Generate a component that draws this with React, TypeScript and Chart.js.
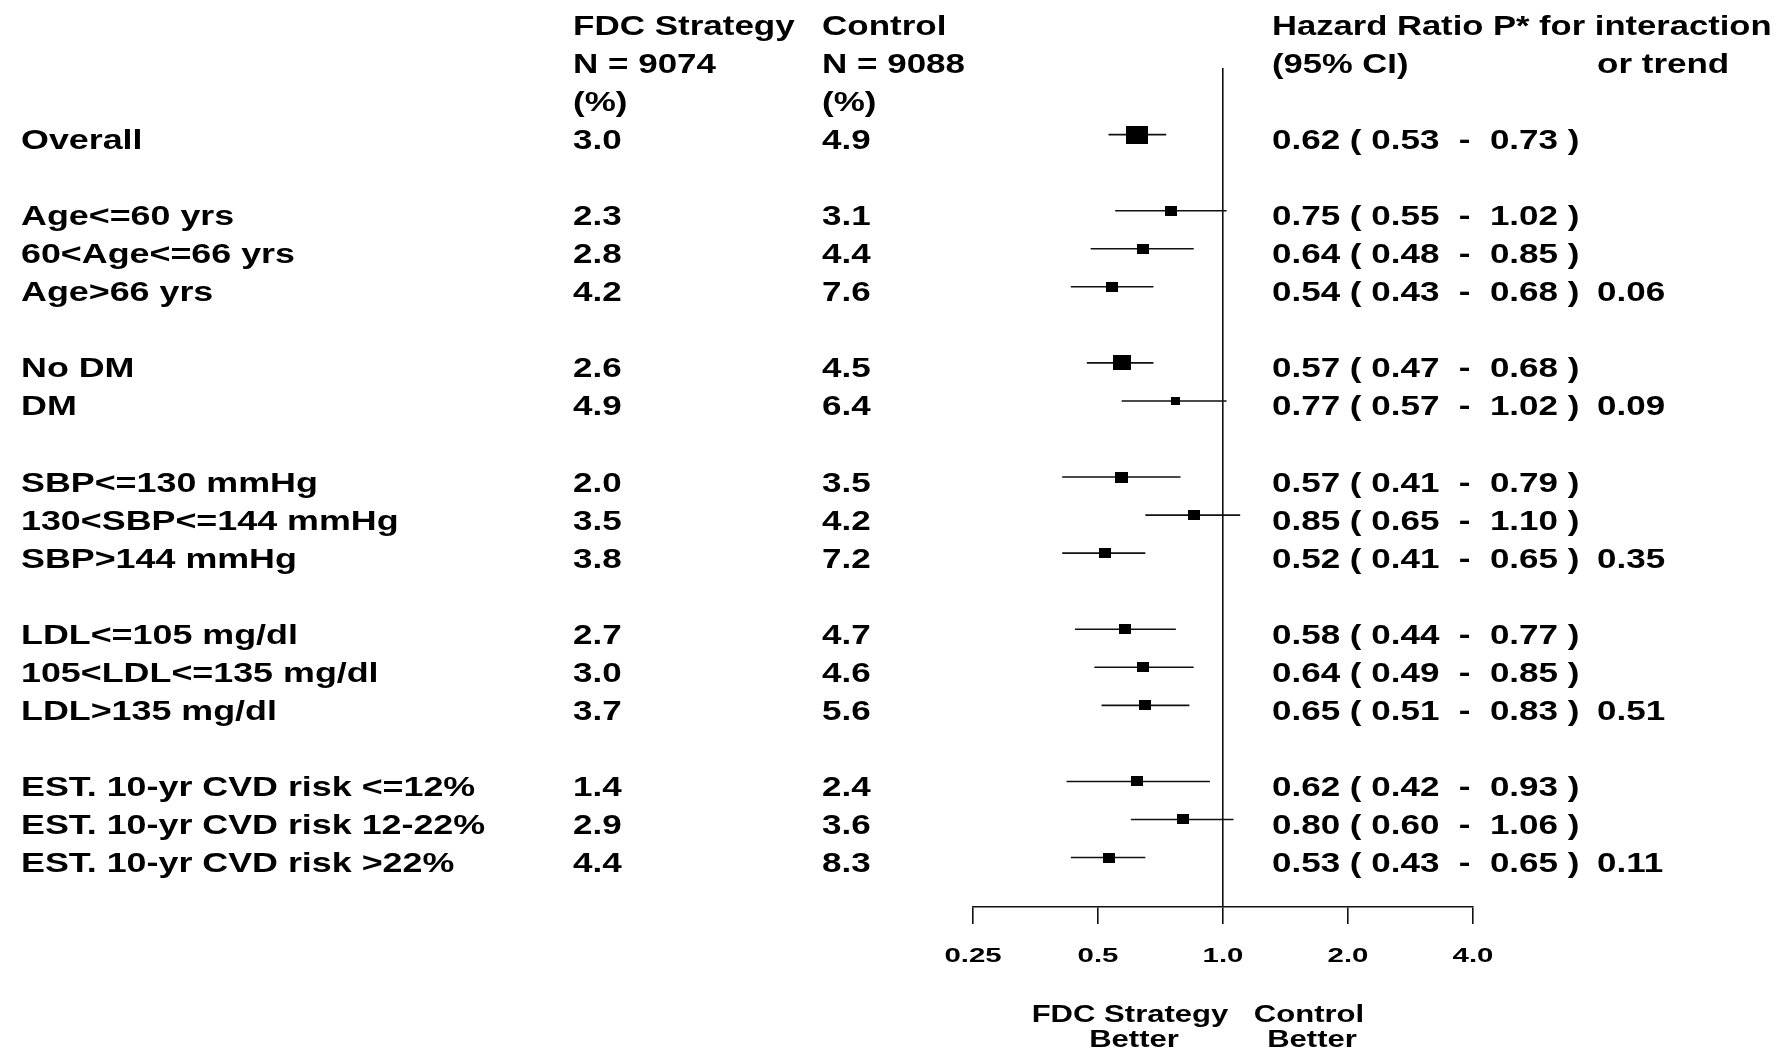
import React, { useEffect, useRef } from 'react';
import { Chart, registerables } from 'chart.js';

Chart.register(...registerables);

// ---- data (null = spacer row) ----
const subgroups: (string | null)[] = [
  'Overall', null,
  'Age<=60 yrs', '60<Age<=66 yrs', 'Age>66 yrs', null,
  'No DM', 'DM', null,
  'SBP<=130 mmHg', '130<SBP<=144 mmHg', 'SBP>144 mmHg', null,
  'LDL<=105 mg/dl', '105<LDL<=135 mg/dl', 'LDL>135 mg/dl', null,
  'EST. 10-yr CVD risk <=12%', 'EST. 10-yr CVD risk 12-22%', 'EST. 10-yr CVD risk >22%',
];
const fdcRate: (number | null)[] = [3.0, null, 2.3, 2.8, 4.2, null, 2.6, 4.9, null, 2.0, 3.5, 3.8, null, 2.7, 3.0, 3.7, null, 1.4, 2.9, 4.4];
const controlRate: (number | null)[] = [4.9, null, 3.1, 4.4, 7.6, null, 4.5, 6.4, null, 3.5, 4.2, 7.2, null, 4.7, 4.6, 5.6, null, 2.4, 3.6, 8.3];
const hazardRatio: (number | null)[] = [0.62, null, 0.75, 0.64, 0.54, null, 0.57, 0.77, null, 0.57, 0.85, 0.52, null, 0.58, 0.64, 0.65, null, 0.62, 0.80, 0.53];
const ciLower: (number | null)[] = [0.53, null, 0.55, 0.48, 0.43, null, 0.47, 0.57, null, 0.41, 0.65, 0.41, null, 0.44, 0.49, 0.51, null, 0.42, 0.60, 0.43];
const ciUpper: (number | null)[] = [0.73, null, 1.02, 0.85, 0.68, null, 0.68, 1.02, null, 0.79, 1.10, 0.65, null, 0.77, 0.85, 0.83, null, 0.93, 1.06, 0.65];
const pInteraction: (string | null)[] = [null, null, null, null, '0.06', null, null, '0.09', null, null, null, '0.35', null, null, null, '0.51', null, null, null, '0.11'];
// relative weight (share of participants) -> box size
const boxWeight: (number | null)[] = [1, null, 0.3, 0.3, 0.3, null, 0.71, 0.18, null, 0.34, 0.3, 0.3, null, 0.3, 0.3, 0.3, null, 0.3, 0.3, 0.3];

const tickValues = [0.25, 0.5, 1, 2, 4];
const tickLabels = ['0.25', '0.5', '1.0', '2.0', '4.0'];

const headerFdc = ['FDC Strategy', 'N = 9074', '(%)'];
const headerControl = ['Control', 'N = 9088', '(%)'];
const headerHR = ['Hazard Ratio P* for interaction', '(95% CI)'];
const headerP = 'or trend';
const favourLeft = ['FDC Strategy', 'Better'];
const favourRight = ['Control', 'Better'];

// ---- layout ----
const W = 1778;
const H = 1051;
const AXIS_Y = 907;
const PLOT_LEFT = 973;
const PLOT_RIGHT = 1473;
const PLOT_TOP = 68;
const LABEL_X = 21;
const COL1_X = 573;
const COL2_X = 822;
const HR_X = 1272;
const P_X = 1597;
const TEXT_SIZE = 28;
const TEXT_SX = 1.25;
const HEADER_HR_SX = 1.235;
const LABEL_SX = 1.28;
const BASE_OFF = 14.5;
const FONT = '"Liberation Sans", Arial, Helvetica, sans-serif';

function put(ctx: CanvasRenderingContext2D, text: string, x: number, y: number, size: number, sx: number, align: CanvasTextAlign = 'left') {
  ctx.save();
  ctx.font = `bold ${size}px ${FONT}`;
  ctx.fillStyle = '#000';
  ctx.textAlign = align;
  ctx.textBaseline = 'alphabetic';
  ctx.translate(x, y);
  ctx.scale(sx, 1);
  ctx.fillText(text, 0, 0);
  ctx.restore();
}

const textPlugin = {
  id: 'forestText',
  afterDraw(chart: any) {
    const ctx: CanvasRenderingContext2D = chart.ctx;
    const ys = chart.scales.y;
    const xs = chart.scales.x;
    const base = (r: number) => ys.getPixelForValue(r) + BASE_OFF;

    // headers
    headerFdc.forEach((t, k) => put(ctx, t, COL1_X, base(k - 3), TEXT_SIZE, TEXT_SX));
    headerControl.forEach((t, k) => put(ctx, t, COL2_X, base(k - 3), TEXT_SIZE, TEXT_SX));
    headerHR.forEach((t, k) => put(ctx, t, HR_X, base(k - 3), TEXT_SIZE, HEADER_HR_SX));
    put(ctx, headerP, P_X, base(-2), TEXT_SIZE, TEXT_SX);

    // rows
    subgroups.forEach((label, i) => {
      if (label == null) return;
      const y = base(i);
      put(ctx, label, LABEL_X, y, TEXT_SIZE, LABEL_SX);
      put(ctx, (fdcRate[i] as number).toFixed(1), COL1_X, y, TEXT_SIZE, TEXT_SX);
      put(ctx, (controlRate[i] as number).toFixed(1), COL2_X, y, TEXT_SIZE, TEXT_SX);
      const hrText = `${(hazardRatio[i] as number).toFixed(2)} ( ${(ciLower[i] as number).toFixed(2)}  -  ${(ciUpper[i] as number).toFixed(2)} )`;
      put(ctx, hrText, HR_X, y, TEXT_SIZE, TEXT_SX);
      if (pInteraction[i]) put(ctx, pInteraction[i] as string, P_X, y, TEXT_SIZE, TEXT_SX);
    });

    // tick labels
    const bottom = chart.chartArea.bottom;
    xs.ticks.forEach((t: any, k: number) => {
      put(ctx, tickLabels[k], xs.getPixelForValue(t.value), bottom + 55, 21, 1.4, 'center');
    });

    // favour labels
    const one = xs.getPixelForValue(1);
    put(ctx, favourLeft[0], one - 93, bottom + 115, 23, 1.35, 'center');
    put(ctx, favourLeft[1], one - 89, bottom + 140, 23, 1.35, 'center');
    put(ctx, favourRight[0], one + 86, bottom + 115, 23, 1.35, 'center');
    put(ctx, favourRight[1], one + 89, bottom + 140, 23, 1.35, 'center');
  },
};

export default function App() {
  const ref = useRef<HTMLCanvasElement>(null);

  useEffect(() => {
    const canvas = ref.current;
    if (!canvas) return;
    const rows = subgroups.map((_, i) => i).filter((i) => hazardRatio[i] != null);

    const boxBase = 21.7;
    const boxStyles = rows.map((i) => {
      const w = Math.max(4, Math.round(boxBase * Math.sqrt(boxWeight[i] as number)));
      const h = Math.max(4, Math.round(w / 1.2));
      const c = document.createElement('canvas');
      c.width = w;
      c.height = h;
      const g = c.getContext('2d')!;
      g.fillStyle = '#000';
      g.fillRect(0, 0, w, h);
      return c;
    });

    const boxData = rows.map((i) => ({ x: hazardRatio[i] as number, y: i }));
    const ciData: any[] = [];
    rows.forEach((i) => {
      ciData.push({ x: ciLower[i], y: i }, { x: ciUpper[i], y: i }, { x: null, y: null });
    });

    const chart = new Chart(canvas, {
      type: 'scatter',
      data: {
        datasets: [
          {
            label: 'HR',
            data: boxData,
            pointStyle: boxStyles as any,
            pointRadius: 5,
            pointHoverRadius: 5,
            order: 0,
          } as any,
          {
            label: 'CI',
            data: ciData,
            showLine: true,
            spanGaps: false,
            borderColor: '#111',
            borderWidth: 1.6,
            pointRadius: 0,
            pointHoverRadius: 0,
            order: 1,
          } as any,
        ],
      },
      options: {
        animation: false,
        responsive: false,
        devicePixelRatio: 1,
        events: [],
        layout: {
          padding: { left: PLOT_LEFT, right: W - PLOT_RIGHT, top: PLOT_TOP, bottom: 0 },
        },
        plugins: {
          legend: { display: false },
          tooltip: { enabled: false },
        },
        scales: {
          x: {
            type: 'logarithmic',
            position: 'bottom',
            min: 0.25,
            max: 4,
            bounds: 'data',
            afterBuildTicks: (s: any) => {
              s.ticks = tickValues.map((v) => ({ value: v }));
            },
            afterFit: (s: any) => {
              s.height = H - AXIS_Y;
            },
            grid: {
              drawOnChartArea: true,
              color: (c: any) => (c.tick && c.tick.value === 1 ? '#111' : 'rgba(0,0,0,0)'),
              lineWidth: 1.6,
              drawTicks: true,
              tickLength: 17,
              tickColor: '#111',
              tickWidth: 1.6,
            },
            border: { display: true, color: '#111', width: 1.6 },
            ticks: { display: false },
          } as any,
          y: {
            type: 'linear',
            min: -1.75,
            max: 20.3,
            reverse: true,
            display: false,
          },
        },
      },
      plugins: [textPlugin as any],
    });

    return () => chart.destroy();
  }, []);

  return (
    <div style={{ position: 'fixed', left: 0, top: 0, width: W, height: H, background: '#fff' }}>
      <canvas ref={ref} width={W} height={H} style={{ display: 'block', width: W, height: H }} />
    </div>
  );
}
